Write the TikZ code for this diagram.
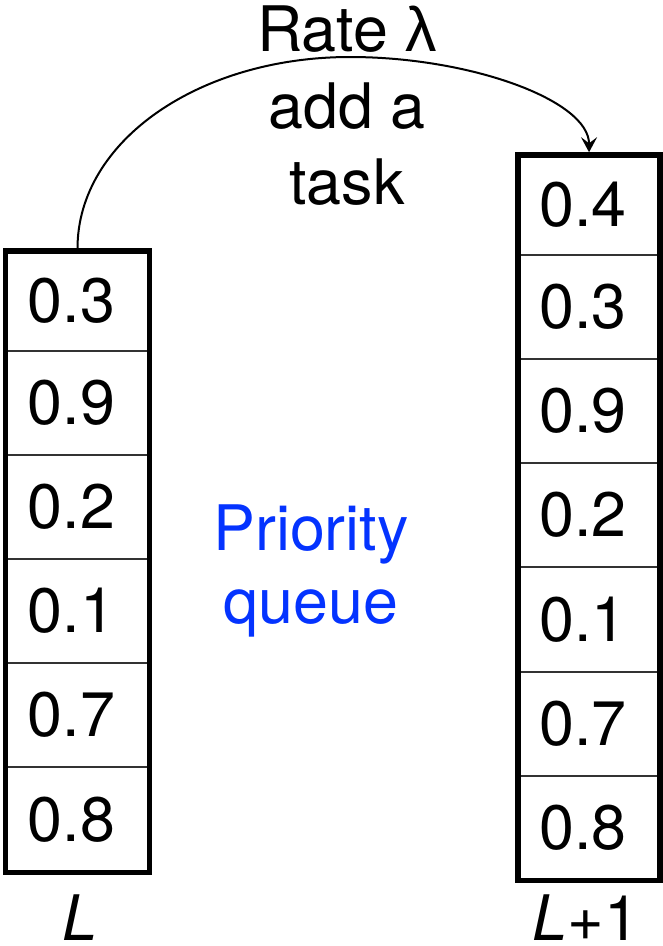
\documentclass[tikz,border=0pt]{standalone}
\usepackage{fontspec}
\setmainfont{TeX Gyre Heros}
\newfontfamily\greekfont{Liberation Sans}
\usetikzlibrary{arrows.meta}
\definecolor{queueblue}{RGB}{4,51,255}
\definecolor{rulegray}{gray}{0.2}

\begin{document}
\begin{tikzpicture}[x=1bp,y=-1bp,
  txt/.style={font=\fontsize{63}{76}\selectfont, inner sep=0pt, outer sep=0pt},
  cellval/.style={txt, anchor=center},
  linetext/.style={txt, anchor=base},
  frame/.style={draw, line width=5.5bp, inner sep=0pt, line join=miter},
  divider/.style={line width=2bp, draw=rulegray},
  link/.style={line width=2bp, -{Stealth[length=15bp,width=16bp,inset=6bp]}}]
\useasboundingbox (0,0) rectangle (663,946);

% dividers between queue entries
\foreach \y in {350.7,454.7,558.7,662.7,766.7}
  \draw[divider] (6,\y) -- (149,\y);
\foreach \y in {254.7,358.9,463.1,567.3,671.5,775.7}
  \draw[divider] (519,\y) -- (659,\y);

% queue frames
\node[frame, minimum width=144.4bp, minimum height=621.1bp] (left) at (77.5,561.75) {};
\node[frame, minimum width=142.3bp, minimum height=725.5bp] (right) at (589.05,517.75) {};

% queue L
\node[cellval] (l1) at (71.5,301.0) {0.3};
\node[cellval] (l2) at (71.5,402.7) {0.9};
\node[cellval] (l3) at (71.5,506.7) {0.2};
\node[cellval] (l4) at (71.5,610.7) {0.1};
\node[cellval] (l5) at (71.5,714.7) {0.7};
\node[cellval] (l6) at (71.5,819.5) {0.8};

% queue L+1
\node[cellval] (r1) at (583,204.9) {0.4};
\node[cellval] (r2) at (583,306.8) {0.3};
\node[cellval] (r3) at (583,411.0) {0.9};
\node[cellval] (r4) at (583,515.2) {0.2};
\node[cellval] (r5) at (583,619.4) {0.1};
\node[cellval] (r6) at (583,723.6) {0.7};
\node[cellval] (r7) at (583,828.1) {0.8};

% arrival of a new task
\coordinate (apex) at (350,57);
\draw[link] (left.north) .. controls +(0,-108) and +(-150,0) .. (apex)
                        .. controls +(120,0) and +(0,-52) .. (right.north);
\node[linetext] (rate) at (347,51) {Rate {\greekfont λ}};
\node[linetext] (add) at (347,128) {add a};
\node[linetext] (task) at (347,204) {task};

% centre caption
\node[linetext, text=queueblue] (prio) at (311,550.7) {Priority};
\node[linetext, text=queueblue] (queue) at (311,623.3) {queue};

% queue names
\node[linetext] (nameL) at (80,940) {\itshape L};
\node[linetext] (nameL1) at (586,940) {\textit{L}+1};
\end{tikzpicture}
\end{document}
